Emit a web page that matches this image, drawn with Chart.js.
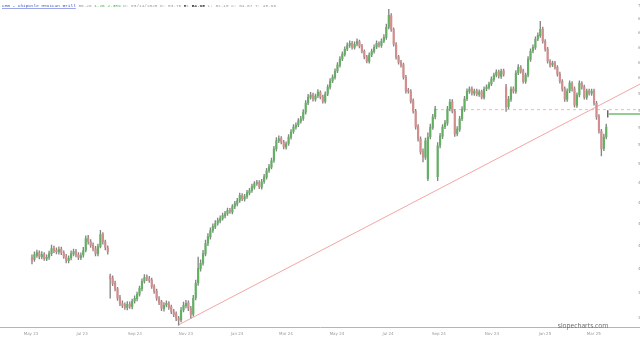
<!DOCTYPE html>
<html>
<head>
<meta charset="utf-8">
<script src="https://cdn.jsdelivr.net/npm/chart.js@4.4.1/dist/chart.umd.min.js"></script>
<style>
  html, body { margin: 0; padding: 0; background: #fff; }
  #wrap { width: 640px; height: 341px; }
</style>
</head>
<body>
<div id="wrap"><canvas id="cmgChart" width="640" height="341"></canvas></div>
<script>
// CMG daily candles, grouped 2 sessions per bar (May 23 -> Mar 25)
const opens = [
  40.95,40.80,41.15,41.38,41.02,41.25,40.85,40.99,41.30,41.78,
  41.60,41.45,41.70,41.38,41.02,40.68,40.92,41.28,41.50,41.20,
  40.95,41.18,41.60,42.70,42.35,42.05,41.72,41.28,41.95,43.05,
  42.35,41.80,39.35,39.20,38.80,38.32,37.60,37.12,37.04,36.82,
  37.10,36.90,37.35,37.52,37.90,38.33,38.95,39.30,39.15,39.04,
  38.50,38.15,37.52,37.27,36.74,37.03,37.14,36.88,36.50,36.33,
  35.97,35.88,36.64,36.98,37.20,36.75,36.32,37.60,38.80,40.00,
  40.48,41.28,42.22,42.80,43.40,43.72,44.06,44.28,44.52,44.75,
  45.00,45.29,45.12,45.66,45.90,46.25,46.75,46.38,46.65,47.00,
  47.25,47.58,47.95,48.05,47.58,48.15,48.60,49.30,49.65,50.35,
  51.60,52.52,52.75,52.35,51.80,52.20,52.90,53.55,54.05,54.33,
  54.74,55.05,55.80,56.92,57.58,57.90,57.35,57.78,58.20,57.65,
  57.10,58.02,58.83,59.64,60.08,60.92,61.64,62.48,63.08,63.82,
  64.30,64.64,64.02,64.50,64.85,64.23,63.49,62.76,62.15,63.02,
  63.49,64.10,64.58,64.30,64.92,65.40,66.87,68.50,66.50,64.43,
  62.75,62.02,61.70,60.08,58.40,58.33,57.16,55.89,54.10,52.68,
  51.32,50.70,48.43,52.97,54.03,55.27,48.64,51.98,53.01,54.11,
  54.50,56.20,57.05,55.89,53.30,53.80,55.04,56.13,57.42,58.32,
  58.65,58.07,58.39,57.95,58.28,57.58,58.65,58.82,59.26,59.82,
  60.41,60.80,60.20,60.92,58.86,56.45,57.34,58.65,58.32,60.67,
  61.38,60.92,59.57,60.40,62.42,63.56,64.02,65.20,65.67,66.58,
  64.84,63.82,62.15,61.70,61.96,61.38,60.54,59.57,58.65,57.34,
  58.40,59.32,58.65,56.61,57.90,59.32,58.90,57.58,58.40,58.07,
  58.40,56.85,55.27,53.57,51.65,52.97
];
const highs = [
  41.20,41.45,41.62,41.55,41.48,41.40,41.20,41.52,42.05,41.98,
  41.82,41.90,41.88,41.55,41.25,41.10,41.55,41.70,41.68,41.40,
  41.38,41.85,42.90,42.95,42.55,42.25,41.95,42.15,43.40,43.20,
  42.50,42.00,39.55,39.40,38.95,38.45,37.80,37.35,37.20,37.30,
  37.28,37.50,37.75,38.05,38.55,39.15,39.50,39.48,39.35,39.20,
  38.68,38.30,37.70,37.40,37.22,37.35,37.30,37.02,36.68,36.50,
  36.15,36.85,37.25,37.40,37.35,36.92,37.80,39.05,41.00,40.75,
  41.60,42.50,43.10,43.62,44.00,44.30,44.55,44.75,45.02,45.20,
  45.50,45.48,45.85,46.15,46.45,46.98,46.92,46.85,47.25,47.45,
  47.88,48.15,48.28,48.25,48.38,48.90,49.52,49.95,50.60,51.90,
  52.85,53.05,52.98,52.55,52.40,53.20,53.78,54.35,54.55,55.05,
  55.30,56.10,57.20,57.95,58.20,58.12,58.00,58.55,58.40,57.85,
  58.25,59.15,59.92,60.40,61.20,62.00,62.80,63.45,64.10,64.65,
  64.95,64.88,64.80,65.20,65.05,64.45,63.70,62.98,63.30,63.82,
  64.38,64.95,64.80,65.20,65.80,67.30,69.43,68.80,66.75,64.70,
  62.98,62.30,61.95,60.35,58.70,58.55,57.40,56.15,54.35,52.95,
  51.60,52.80,53.40,54.40,55.55,56.50,52.30,53.35,54.35,54.85,
  56.50,57.35,57.30,56.10,54.10,55.30,56.45,57.70,58.65,58.90,
  58.88,58.62,58.60,58.50,58.48,58.90,59.15,59.50,60.15,60.65,
  61.05,61.02,61.15,61.15,59.20,57.70,58.90,58.88,60.95,61.75,
  61.60,61.15,60.65,62.80,63.85,64.40,65.50,66.05,67.70,66.85,
  65.10,64.05,62.40,62.20,62.18,61.60,60.75,59.80,58.90,58.65,
  59.65,59.55,58.90,58.15,59.65,59.55,59.12,58.62,58.62,58.62,
  58.62,57.10,55.50,53.80,53.25,54.40
];
const lows = [
  40.40,40.62,40.98,40.85,40.85,40.70,40.68,40.80,41.12,41.38,
  41.28,41.25,41.20,40.88,40.50,40.50,40.75,41.10,41.02,40.78,
  40.78,41.00,41.45,42.15,41.85,41.55,41.10,41.10,41.80,42.15,
  41.62,41.25,37.56,38.58,38.15,37.38,36.98,36.82,36.68,36.65,
  36.75,36.72,37.18,37.35,37.72,38.15,38.78,39.00,38.85,38.35,
  37.95,37.38,37.05,36.58,36.55,36.88,36.68,36.35,36.12,35.82,
  35.47,35.72,36.48,36.80,36.58,36.00,36.15,37.42,38.60,39.80,
  40.30,41.10,42.00,42.60,43.20,43.55,43.88,44.10,44.35,44.55,
  44.80,44.98,44.95,45.45,45.70,46.05,46.22,46.18,46.45,46.80,
  47.05,47.38,47.75,47.42,47.38,47.95,48.40,49.10,49.45,50.15,
  51.35,52.30,52.15,51.60,51.58,51.98,52.68,53.32,53.82,54.10,
  54.50,54.82,55.55,56.68,57.35,57.12,57.12,57.55,57.38,56.88,
  56.88,57.80,58.60,59.40,59.85,60.70,61.40,62.25,62.85,63.58,
  64.05,63.80,63.78,64.25,63.95,63.28,62.48,61.95,61.92,62.78,
  63.25,63.85,64.08,64.05,64.68,65.15,66.60,66.25,64.20,62.45,
  61.80,61.40,59.85,58.10,58.10,56.88,55.68,53.82,52.45,51.02,
  50.20,50.45,48.23,52.70,53.80,55.00,48.23,51.72,52.75,53.88,
  54.25,55.95,55.70,53.00,53.05,53.55,54.80,55.90,57.18,58.08,
  57.85,57.82,57.75,57.70,57.38,57.35,58.40,58.58,59.02,59.58,
  60.15,59.98,59.95,60.25,55.90,56.20,57.10,58.10,58.08,60.42,
  60.62,59.35,59.32,60.15,62.15,63.30,63.75,64.95,65.40,64.60,
  63.52,61.92,61.40,61.45,61.15,60.25,59.35,58.35,57.10,57.08,
  58.15,58.35,56.38,56.35,57.65,58.60,57.35,57.32,57.85,57.82,
  56.62,54.95,53.35,50.84,51.40,52.70
];
const closes = [
  40.71,41.22,41.40,41.05,41.22,40.88,40.97,41.31,41.75,41.57,
  41.48,41.66,41.40,41.05,40.71,40.88,41.31,41.48,41.22,40.97,
  41.14,41.57,42.65,42.38,42.02,41.75,41.31,41.93,43.01,42.38,
  41.84,41.48,39.18,38.77,38.36,37.56,37.16,37.00,36.85,37.08,
  36.93,37.32,37.56,37.88,38.36,38.93,39.26,39.18,39.01,38.52,
  38.12,37.56,37.24,36.77,37.00,37.16,36.85,36.53,36.30,36.00,
  35.85,36.61,37.00,37.16,36.77,36.30,37.56,38.77,40.02,40.45,
  41.31,42.20,42.83,43.38,43.75,44.03,44.31,44.50,44.78,44.97,
  45.26,45.16,45.64,45.93,46.22,46.72,46.42,46.62,47.02,47.22,
  47.62,47.92,48.02,47.62,48.12,48.64,49.26,49.68,50.32,51.61,
  52.49,52.71,52.38,51.83,52.16,52.93,53.50,54.07,54.30,54.77,
  55.00,55.82,56.89,57.62,57.87,57.38,57.75,58.24,57.62,57.13,
  57.99,58.86,59.61,60.11,60.88,61.67,62.45,63.12,63.79,64.33,
  64.61,64.06,64.47,64.88,64.20,63.52,62.72,62.19,62.99,63.52,
  64.06,64.61,64.33,64.88,65.44,66.83,68.55,66.55,64.47,62.72,
  62.06,61.67,60.11,58.36,58.36,57.13,55.93,54.07,52.71,51.28,
  50.74,52.49,52.93,54.07,55.23,56.17,51.94,53.05,54.07,54.54,
  56.17,57.01,55.93,53.27,53.84,55.00,56.17,57.38,58.36,58.61,
  58.11,58.36,57.99,58.24,57.62,58.61,58.86,59.23,59.86,60.37,
  60.76,60.24,60.88,60.50,56.41,57.38,58.61,58.36,60.63,61.41,
  60.88,59.61,60.37,62.45,63.52,64.06,65.16,65.71,66.55,64.88,
  63.79,62.19,61.67,61.93,61.41,60.50,59.61,58.61,57.38,58.36,
  59.36,58.61,56.65,57.87,59.36,58.86,57.62,58.36,58.11,58.36,
  56.89,55.23,53.61,51.61,52.93,54.07
];

// month labels and where they sit on the bar index axis
const monthLabels = ['May 23','Jul 23','Sep 23','Nov 23','Jan 24','Mar 24','May 24','Jul 24','Sep 24','Nov 24','Jan 25','Mar 25'];
const monthPos = [-0.4, 20.5, 42.1, 63.0, 83.9, 103.9, 124.8, 145.7, 166.5, 188.2, 209.9, 229.9];
const priceTicks = [36,38,40,42,44,46,48,50,52,54,56,58,60,62,64,66,68,70];

// trendline, resistance level and last quote
const trendX = [59.7, 248.8];
const trendY = [35.47, 59.23];
const levelX = [164.9, 248.8];
const levelY = [56.09, 56.09];
const lastX = [236, 248.8];
const lastY = [55.58, 55.58];

const headerParts = [
  { t: 'CMG - Chipotle Mexican Grill', c: '#3a4fc4', u: true },
  { t: ' 55.26', c: '#9a9a9a' },
  { t: ' 1.25 2.35%', c: '#4caf50' },
  { t: ' D: 03/14/2025 O: 53.76', c: '#9a9a9a' },
  { t: ' H: 54.95', c: '#333', b: true },
  { t: ' L: 52.18 C: 54.07 T: 48.66', c: '#9a9a9a' }
];

const UP = '#63b063', DOWN = '#d48c8c', WICK = '#858585';

const wickData = closes.map((c, i) => ({ x: i, y: [lows[i], highs[i]] }));
const bodyData = closes.map((c, i) => ({ x: i, y: [opens[i], c] }));
const bodyColors = closes.map((c, i) => c >= opens[i] ? UP : DOWN);

const decorPlugin = {
  id: 'decor',
  afterDraw(chart) {
    const ctx = chart.ctx;
    ctx.save();
    // header
    let x = 2;
    ctx.textBaseline = 'middle';
    headerParts.forEach(p => {
      ctx.font = (p.b ? 'bold ' : '') + '4.4px "Liberation Mono", monospace';
      ctx.fillStyle = p.c;
      ctx.fillText(p.t, x, 6);
      const w = ctx.measureText(p.t).width;
      if (p.u) { ctx.fillRect(x, 8.3, w, 0.5); }
      x += w;
    });
    // watermark
    ctx.font = '6.6px "Open Sans", sans-serif';
    ctx.fillStyle = '#6a6a6a';
    ctx.textAlign = 'center';
    ctx.fillText('slopecharts.com', 583, 326);
    ctx.restore();
  }
};

new Chart(document.getElementById('cmgChart').getContext('2d'), {
  type: 'bar',
  data: {
    datasets: [
      { type: 'line', data: trendX.map((v, i) => ({ x: v, y: trendY[i] })), borderColor: '#ef8f8f', borderWidth: 0.8, pointRadius: 0, order: 5 },
      { type: 'line', data: levelX.map((v, i) => ({ x: v, y: levelY[i] })), borderColor: '#f2a3a3', borderWidth: 0.8, borderDash: [3, 3], pointRadius: 0, order: 4 },
      { data: wickData, backgroundColor: WICK, barThickness: 0.7, grouped: false, order: 3 },
      { data: bodyData, backgroundColor: bodyColors, barThickness: 1.5, minBarLength: 1, grouped: false, order: 2 },
      { type: 'line', data: lastX.map((v, i) => ({ x: v, y: lastY[i] })), borderColor: '#2f9a2f', borderWidth: 1.2, pointRadius: 0, order: 1 },
      { data: [{ x: 235.6, y: [55.2, 56.0] }], backgroundColor: '#666', barThickness: 0.8, grouped: false, order: 0 }
    ]
  },
  options: {
    responsive: false,
    animation: false,
    devicePixelRatio: 1,
    layout: { padding: { left: 0, right: 0, top: 0, bottom: 1 } },
    plugins: { legend: { display: false }, tooltip: { enabled: false } },
    scales: {
      x: {
        type: 'linear', min: -13.09, max: 248.8, bounds: 'data', offset: false,
        grid: { display: false, drawTicks: false, offset: false },
        border: { display: true, color: '#b5b5b5', width: 1 },
        afterBuildTicks: s => { s.ticks = monthPos.map(v => ({ value: v })); },
        ticks: { autoSkip: false, maxRotation: 0, padding: 4, color: '#9a9a9a', font: { size: 4, family: 'DejaVu Sans' },
                 callback: (v, i) => monthLabels[i] }
      },
      y: {
        type: 'logarithmic', position: 'right', min: 35.32, max: 70.02, bounds: 'data',
        grid: { display: false, drawTicks: false },
        border: { display: false },
        afterFit: s => { s.width = 0; },
        afterBuildTicks: s => { s.ticks = priceTicks.map(v => ({ value: v })); },
        ticks: { mirror: true, autoSkip: false, padding: 3, color: '#9a9a9a', font: { size: 4, family: 'DejaVu Sans' },
                 callback: v => String(v) }
      }
    }
  },
  plugins: [decorPlugin]
});
</script>
</body>
</html>
